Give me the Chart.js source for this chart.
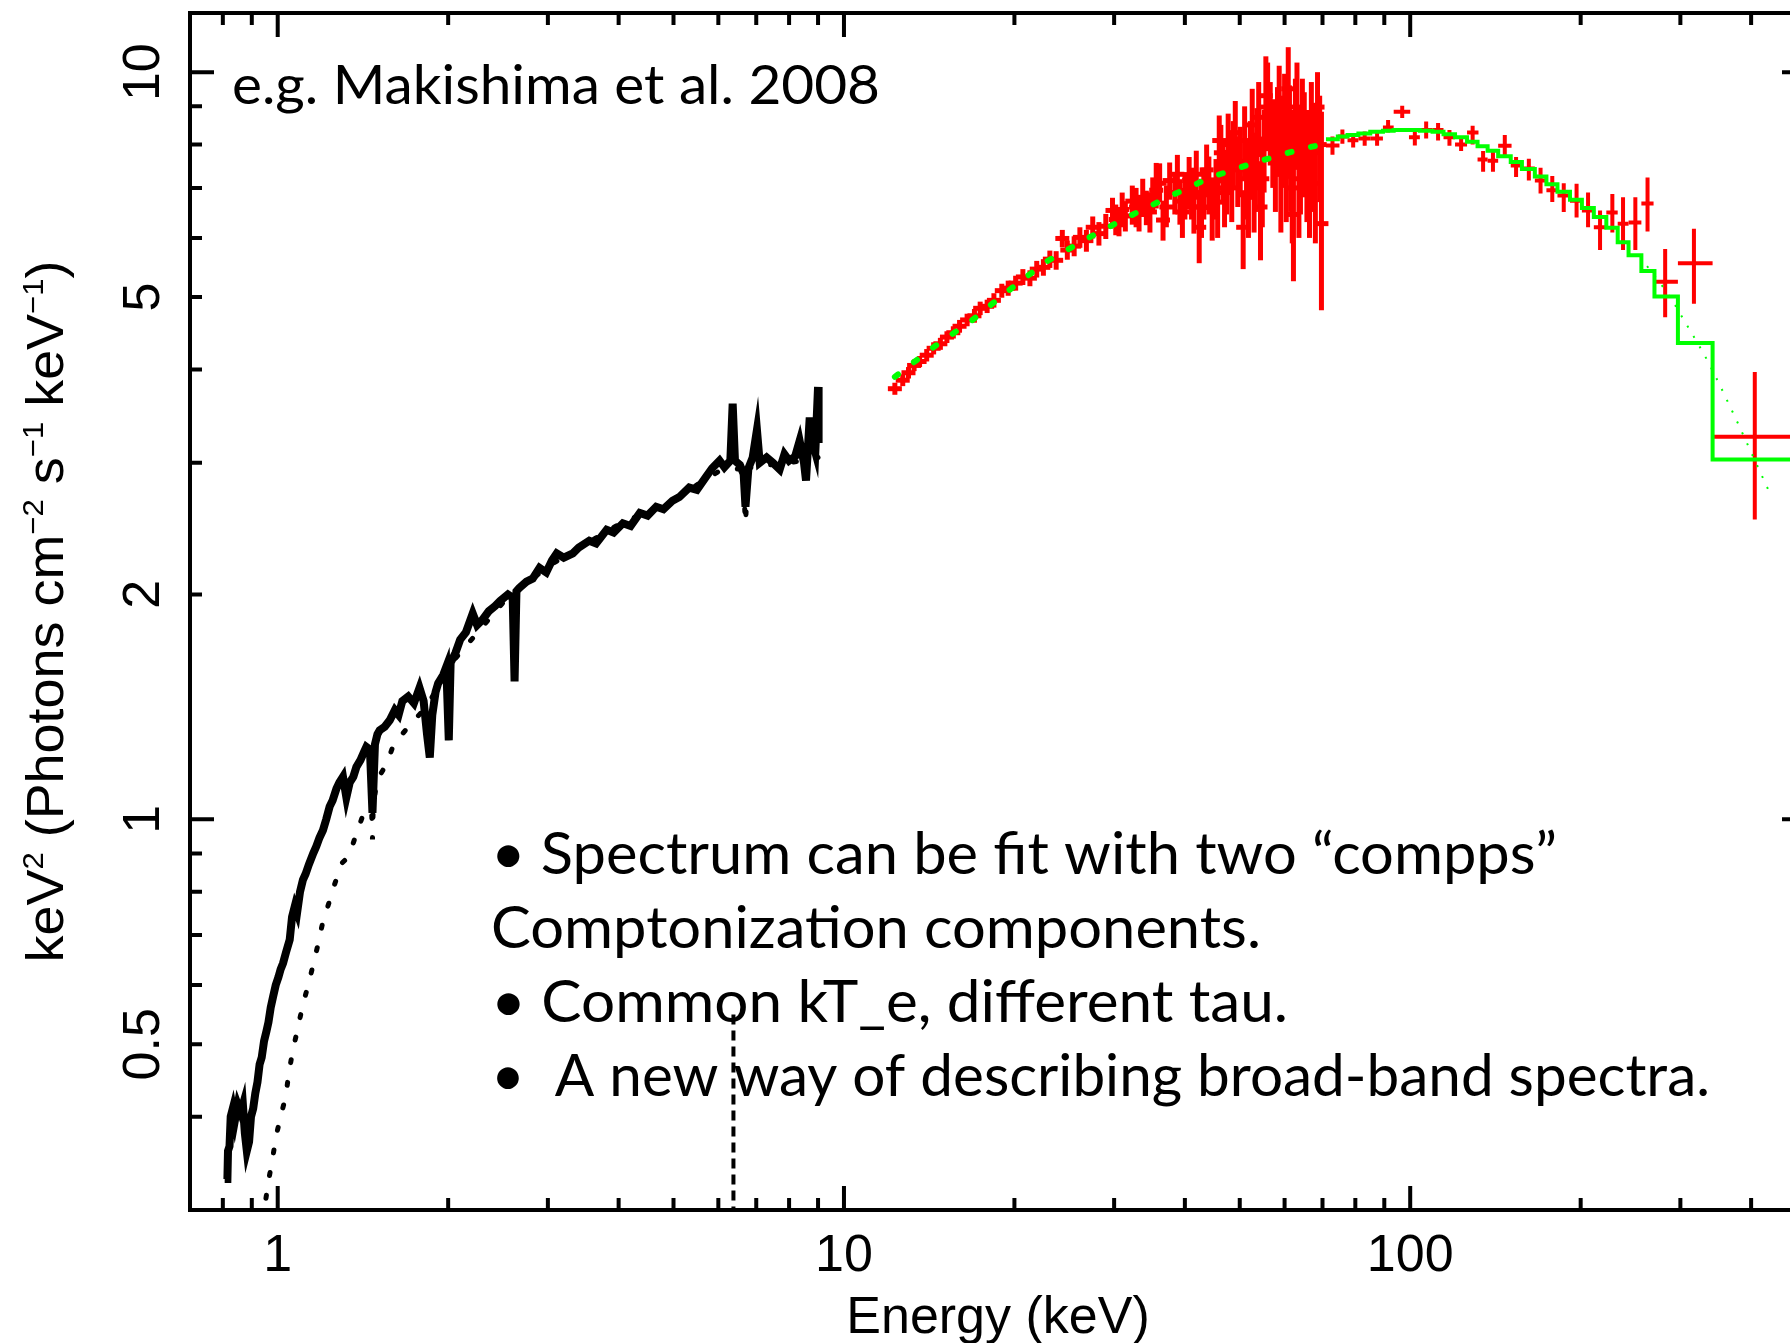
<!DOCTYPE html>
<html lang="en">
<head>
  <meta charset="UTF-8" />
  <title>Broad-band spectrum | two compps fit</title>
  <script src="https://cdn.jsdelivr.net/npm/chart.js"></script>
  <style>
    html, body { margin: 0; padding: 0; background: #fff; overflow: hidden; }
    #spec { display: block; }
  </style>
</head>
<body>
<canvas id="spec" width="1830" height="1343"></canvas>

<script>
// ---- values: energy (keV) vs keV^2 (photons cm^-2 s^-1 keV^-1) ----

// soft band (black)
const xisE = [0.806, 0.815, 0.817, 0.822, 0.826, 0.833, 0.84, 0.85, 0.86, 0.868, 0.875, 0.882, 0.89, 0.897, 0.905,
  0.913, 0.921, 0.929, 0.937, 0.946, 0.955, 0.963, 0.972, 0.981, 0.992, 1.003, 1.012, 1.022, 1.035, 1.05,
  1.06, 1.072, 1.082, 1.095, 1.108, 1.12, 1.135, 1.155, 1.17, 1.185, 1.202, 1.218, 1.235, 1.25, 1.27,
  1.285, 1.304, 1.322, 1.34, 1.36, 1.377, 1.40, 1.42, 1.434, 1.455, 1.47, 1.485, 1.50, 1.514, 1.545,
  1.577, 1.61, 1.635, 1.66, 1.70, 1.74, 1.78, 1.81, 1.835, 1.856, 1.875, 1.90, 1.92, 1.96, 1.985,
  2.005, 2.02, 2.06, 2.10, 2.15, 2.21, 2.25, 2.30, 2.36, 2.42, 2.47, 2.55, 2.60, 2.62, 2.64,
  2.67, 2.75, 2.82, 2.90, 2.98, 3.05, 3.11, 3.20, 3.32, 3.40, 3.55, 3.65, 3.81, 3.92, 4.07,
  4.20, 4.36, 4.50, 4.66, 4.80, 4.98, 5.12, 5.33, 5.50, 5.70, 5.85, 6.03, 6.15, 6.30, 6.36,
  6.42, 6.55, 6.65, 6.70, 6.78, 6.90, 7.02, 7.10, 7.30, 7.49, 7.70, 7.85, 8.00, 8.20, 8.35,
  8.50, 8.57, 8.70, 8.80, 8.90, 9.00, 9.02];
const xisV = [0.33, 0.33, 0.36, 0.365, 0.40, 0.41, 0.395, 0.415, 0.405, 0.415, 0.38, 0.36, 0.37, 0.40, 0.41,
  0.43, 0.445, 0.47, 0.48, 0.505, 0.52, 0.535, 0.56, 0.578, 0.60, 0.615, 0.63, 0.642, 0.665, 0.69,
  0.74, 0.765, 0.75, 0.80, 0.83, 0.845, 0.87, 0.90, 0.92, 0.945, 0.967, 1.0, 1.04, 1.06, 1.10,
  1.12, 1.14, 1.07, 1.12, 1.14, 1.175, 1.20, 1.23, 1.25, 1.24, 1.02, 1.26, 1.30, 1.316, 1.33,
  1.357, 1.40, 1.38, 1.44, 1.46, 1.43, 1.50, 1.44, 1.30, 1.21, 1.38, 1.48, 1.52, 1.56, 1.60,
  1.275, 1.62, 1.67, 1.74, 1.78, 1.886, 1.82, 1.85, 1.90, 1.93, 1.96, 2.0, 1.98, 1.53, 2.02,
  2.04, 2.08, 2.10, 2.17, 2.14, 2.22, 2.27, 2.24, 2.27, 2.31, 2.36, 2.34, 2.44, 2.42, 2.49,
  2.47, 2.57, 2.55, 2.62, 2.60, 2.67, 2.70, 2.78, 2.76, 2.87, 2.95, 3.02, 2.96, 3.02, 3.60,
  3.02, 2.98, 2.90, 2.62, 2.95, 3.05, 3.32, 3.00, 3.05, 3.00, 2.94, 3.08, 3.02, 3.06, 3.21,
  3.00, 2.84, 3.45, 3.20, 3.10, 3.79, 3.19];

// soft band model (black dots) and iron line component (dashed)
const xisModelE = [0.94, 0.964, 0.98, 0.996, 1.016, 1.033, 1.046, 1.063, 1.085, 1.107, 1.134, 1.158, 1.177, 1.2,
  1.225, 1.26, 1.297, 1.335, 1.374, 1.419, 1.465, 1.47, 1.475, 1.5, 1.56, 1.6, 1.7, 1.84, 2.0, 2.5,
  3.0, 4.0, 5.0, 6.0, 6.62, 6.7, 6.78, 7.0, 8.0, 9.0];
const xisModelV = [0.29, 0.329, 0.353, 0.38, 0.405, 0.425, 0.457, 0.49, 0.525, 0.564, 0.603, 0.644, 0.678, 0.726,
  0.763, 0.818, 0.873, 0.892, 0.952, 1.02, 1.03, 0.94, 1.05, 1.13, 1.19, 1.256, 1.33, 1.42, 1.60, 1.95,
  2.18, 2.48, 2.68, 2.92, 2.95, 2.49, 2.95, 2.97, 3.0, 3.05];
const feLineE = [6.38, 6.38];
const feLineV = [0.28, 0.552];

// hard band, PIN part (red crosses)
const pinE = [12.3, 12.7, 13.0, 13.3, 13.6, 14.0, 14.4, 14.8, 15.2, 15.6, 16.0, 16.5, 17.0, 17.4, 17.9,
  18.4, 19.0, 19.5, 20.1, 20.7, 21.3, 21.9, 22.5, 23.1, 23.7, 24.3, 24.8, 25.5, 26.1, 26.8,
  27.5, 28.2, 29.0, 29.8, 30.2, 30.6, 31.0, 31.4, 32.3, 32.8, 33.2, 33.7, 34.2, 34.7, 35.1,
  35.6, 36.1, 36.6, 37.1, 37.6, 38.4, 38.8, 39.2, 39.6, 40.0, 40.7, 41.1, 41.5, 41.9, 42.4,
  42.8, 43.2, 43.7, 44.1, 44.7, 45.4, 45.7, 46.0, 46.3, 46.7, 47.0, 47.4, 47.7, 48.0, 48.4,
  48.7, 49.1, 49.6, 50.1, 50.7, 51.0, 51.4, 51.8, 52.2, 52.6, 53.0, 53.3, 53.6, 54.0, 54.4,
  54.8, 55.2, 55.6, 56.0, 56.6, 57.2, 57.8, 58.3, 58.7, 59.1, 59.6, 60.0, 60.4, 60.9, 61.2,
  61.5, 61.9, 62.2, 62.7, 63.1, 63.6, 64.0, 64.5, 65.0, 65.7, 66.4, 66.9, 67.5, 68.0, 68.6,
  69.2, 69.7];
const pinV = [3.77, 3.87, 3.96, 4.05, 4.10, 4.18, 4.27, 4.33, 4.42, 4.48, 4.57, 4.66, 4.72, 4.83, 4.86,
  4.95, 5.10, 5.14, 5.22, 5.32, 5.30, 5.45, 5.48, 5.62, 5.60, 5.99, 5.78, 5.85, 6.01, 5.95,
  6.20, 6.08, 6.22, 6.53, 6.35, 6.30, 6.55, 6.42, 6.72, 6.60, 6.45, 6.80, 6.59, 6.50, 6.85,
  6.95, 7.10, 6.34, 6.60, 7.16, 6.90, 7.30, 6.72, 6.50, 6.85, 7.16, 6.90, 6.60, 7.30, 6.20,
  6.60, 6.90, 7.40, 7.08, 6.59, 7.00, 6.70, 8.10, 7.80, 7.40, 6.90, 7.16, 8.00, 7.60, 7.00,
  7.80, 8.30, 7.40, 7.60, 6.20, 8.10, 7.20, 6.80, 7.70, 8.50, 7.00, 7.40, 8.00, 8.70, 6.60,
  7.20, 7.90, 9.30, 8.98, 8.60, 8.10, 7.60, 8.40, 9.00, 7.30, 8.10, 8.70, 7.40, 9.50, 8.40,
  7.70, 7.00, 6.45, 8.60, 8.98, 7.20, 7.70, 8.50, 8.10, 7.60, 7.30, 8.40, 7.80, 7.10, 8.98,
  8.00, 6.27];
const pinLo = [3.70, 3.80, 3.89, 3.98, 4.03, 4.10, 4.19, 4.25, 4.34, 4.40, 4.48, 4.57, 4.62, 4.73, 4.76,
  4.84, 4.99, 5.02, 5.10, 5.19, 5.17, 5.31, 5.34, 5.47, 5.44, 5.83, 5.61, 5.67, 5.82, 5.75,
  5.99, 5.86, 5.98, 6.27, 6.05, 6.03, 6.20, 6.12, 6.25, 6.20, 6.12, 6.40, 6.24, 6.10, 6.47,
  6.57, 6.70, 5.95, 6.20, 6.75, 6.45, 6.85, 6.25, 6.00, 6.35, 6.62, 6.35, 6.08, 6.75, 5.55,
  6.00, 6.35, 6.80, 6.45, 5.95, 6.35, 6.00, 7.35, 7.10, 6.70, 6.20, 6.45, 7.20, 6.85, 6.30,
  7.00, 7.45, 6.60, 6.80, 5.45, 7.20, 6.35, 6.00, 6.80, 7.50, 6.10, 6.50, 7.05, 7.70, 5.60,
  6.20, 6.90, 8.20, 7.85, 7.50, 7.00, 6.50, 7.25, 7.80, 6.10, 7.00, 7.45, 6.30, 8.20, 7.20,
  6.50, 5.90, 5.25, 7.40, 7.70, 6.00, 6.45, 7.20, 6.80, 6.30, 6.00, 7.00, 6.50, 5.90, 7.90,
  6.70, 4.80];
const pinHi = [3.84, 3.94, 4.03, 4.12, 4.17, 4.26, 4.35, 4.41, 4.50, 4.57, 4.66, 4.75, 4.82, 4.93, 4.96,
  5.06, 5.21, 5.26, 5.34, 5.45, 5.43, 5.59, 5.62, 5.77, 5.76, 6.15, 5.95, 6.03, 6.20, 6.15,
  6.41, 6.30, 6.46, 6.79, 6.65, 6.57, 6.90, 6.72, 7.05, 7.00, 6.78, 7.20, 6.94, 6.90, 7.23,
  7.56, 7.55, 6.73, 7.05, 7.57, 7.35, 7.75, 7.19, 7.00, 7.35, 7.70, 7.45, 7.12, 7.85, 6.85,
  7.20, 7.45, 8.00, 7.71, 7.23, 7.65, 7.40, 8.75, 8.50, 8.10, 7.60, 7.87, 8.80, 8.35, 7.75,
  8.60, 9.15, 8.20, 8.45, 6.95, 9.00, 8.05, 7.65, 8.60, 9.50, 7.90, 8.30, 8.95, 9.70, 7.60,
  8.20, 8.90, 10.5, 10.3, 9.70, 9.20, 8.70, 9.55, 10.2, 8.50, 9.30, 9.95, 8.50, 10.8, 9.60,
  8.90, 8.10, 7.65, 9.80, 10.3, 8.40, 8.95, 9.80, 9.40, 8.90, 8.60, 9.70, 9.10, 8.40, 10.0,
  9.30, 8.85];

// hard band, GSO part (red crosses with bin widths)
const gsoE = [72.9, 75.9, 79.3, 83.1, 87.4, 91.4, 96.8, 101.9, 106.7, 112.0, 117.3, 123.0, 128.9, 134.5, 140.0,
  146.9, 153.8, 162.0, 169.9, 178.2, 186.7, 196.7, 206.1, 216.4, 227.5, 237.6, 249.8, 262.5, 282.0, 317.0, 406];
const gsoV = [7.98, 8.20, 8.11, 8.15, 8.15, 8.43, 8.85, 8.18, 8.37, 8.37, 8.18, 8.00, 8.30, 7.64, 7.61,
  7.97, 7.50, 7.43, 7.16, 6.95, 6.84, 6.73, 6.53, 6.20, 6.49, 6.27, 6.29, 6.67, 5.24, 5.55, 3.25];
const gsoLo = [7.75, 8.02, 7.93, 7.97, 7.97, 8.30, 8.68, 7.98, 8.15, 8.10, 7.97, 7.84, 8.00, 7.36, 7.36,
  7.70, 7.24, 7.16, 6.88, 6.70, 6.50, 6.39, 6.20, 5.78, 6.10, 5.78, 5.78, 6.12, 4.70, 4.90, 2.52];
const gsoHi = [8.20, 8.38, 8.29, 8.33, 8.33, 8.63, 9.02, 8.38, 8.59, 8.55, 8.37, 8.15, 8.48, 7.84, 7.84,
  8.24, 7.70, 7.66, 7.45, 7.26, 7.10, 7.09, 6.90, 6.53, 6.87, 6.80, 6.80, 7.23, 5.80, 6.17, 3.97];
const gsoBinLo = [71, 74.5, 77.5, 81, 85, 89.5, 93.5, 99.5, 104, 109.5, 114.5, 120, 126, 131.5, 137,
  143, 150.5, 157.5, 166, 174, 182, 191.5, 201, 211, 222, 232.5, 243, 256, 270, 297, 342];
const gsoBinHi = [75, 77.5, 81, 85, 89.5, 93.5, 100, 104, 109.5, 114.5, 120, 126, 132, 137, 143,
  151, 157.5, 166, 174, 182, 191.5, 201, 211, 222, 232.5, 243, 256, 269, 297, 342, 500];

// hard band model (green): dots over PIN, binned steps over GSO, fine dotted curve
const pinModelE = [12.3, 14.3, 16.8, 19.4, 22.7, 26.9, 31.6, 37.6, 44.6, 53.8, 64.5, 70];
const pinModelV = [3.91, 4.27, 4.65, 5.08, 5.57, 5.99, 6.39, 6.82, 7.24, 7.59, 7.90, 8.00];
const gsoModelEdge = [71, 74.5, 77.5, 81, 85, 89.5, 93.5, 99.5, 104, 109.5, 114.5, 120, 126, 131.5, 137,
  143, 150.5, 157.5, 166, 174, 182, 191.5, 201, 211, 222, 232.5, 243, 256, 270, 297, 342, 500];
const gsoModelV = [8.13, 8.20, 8.24, 8.28, 8.32, 8.35, 8.37, 8.37, 8.35, 8.32, 8.26, 8.18, 8.07, 7.96, 7.85,
  7.72, 7.58, 7.42, 7.25, 7.08, 6.92, 6.75, 6.58, 6.40, 6.19, 5.92, 5.69, 5.42, 5.01, 4.34, 3.03, 3.03];
const fineModelE = [262, 280, 295, 310, 330, 350, 375, 400, 430];
const fineModelV = [5.5, 5.15, 4.85, 4.55, 4.2, 3.85, 3.45, 3.1, 2.75];

// axes
const xMajorTicks = [1, 10, 100];
const xMinorTicks = [0.8, 0.9, 2, 3, 4, 5, 6, 7, 8, 9, 20, 30, 40, 50, 60, 70, 80, 90, 200, 300, 400];
const yMajorTicks = [1, 10];
const yMinorTicks = [0.4, 0.5, 0.6, 0.7, 0.8, 0.9, 2, 3, 4, 5, 6, 7, 8, 9];
const xTickLabels = ['1', '10', '100'];
const xTickValues = [1, 10, 100];
const yTickLabels = ['0.5', '1', '2', '5', '10'];
const yTickValues = [0.5, 1, 2, 5, 10];

const noteTitle = 'e.g. Makishima et al. 2008';
const noteLines = [
  '\u2022 Spectrum can be fit with two \u201ccompps\u201d',
  'Comptonization components.',
  '\u2022 Common kT_e, different tau.',
  '\u2022  A new way of describing broad-band spectra.'
];

function pts(xs, ys) {
  return xs.map((x, i) => ({ x: x, y: ys[i] }));
}

// draw text squeezed/stretched to a target width
function fitText(ctx, str, x, y, width) {
  const w = ctx.measureText(str).width;
  ctx.save();
  ctx.translate(x, y);
  ctx.scale(width / w, 1);
  ctx.fillText(str, 0, 0);
  ctx.restore();
}

const specFrame = {
  id: 'specFrame',
  // error bars sit under every line and marker
  beforeDatasetsDraw(chart) {
    const { ctx, chartArea: a, scales: { x, y } } = chart;
    ctx.save();
    ctx.beginPath();
    ctx.rect(a.left, a.top, a.right - a.left, a.bottom - a.top);
    ctx.clip();
    chart.data.datasets.forEach(ds => {
      if (!ds.errLo) return;
      ctx.strokeStyle = ds.pointBorderColor;
      ctx.lineWidth = ds.barWidth;
      ds.data.forEach((p, i) => {
        const px = x.getPixelForValue(p.x);
        const py = y.getPixelForValue(p.y);
        ctx.beginPath();
        ctx.moveTo(px, y.getPixelForValue(ds.errLo[i]));
        ctx.lineTo(px, y.getPixelForValue(ds.errHi[i]));
        if (ds.binLo) {
          ctx.moveTo(x.getPixelForValue(ds.binLo[i]), py);
          ctx.lineTo(x.getPixelForValue(ds.binHi[i]), py);
        }
        ctx.stroke();
      });
    });
    ctx.restore();
  },
  afterDraw(chart) {
    const { ctx, chartArea: a, scales: { x, y } } = chart;
    ctx.save();
    ctx.strokeStyle = '#000';
    ctx.fillStyle = '#000';
    ctx.lineWidth = 4;
    ctx.lineCap = 'butt';

    // frame
    ctx.strokeRect(a.left, a.top, a.right - a.left, a.bottom - a.top);

    // inward ticks, mirrored on all four sides
    const xTick = (v, len) => {
      const px = x.getPixelForValue(v);
      ctx.beginPath();
      ctx.moveTo(px, a.bottom); ctx.lineTo(px, a.bottom - len);
      ctx.moveTo(px, a.top); ctx.lineTo(px, a.top + len);
      ctx.stroke();
    };
    const yTick = (v, len) => {
      const py = y.getPixelForValue(v);
      ctx.beginPath();
      ctx.moveTo(a.left, py); ctx.lineTo(a.left + len, py);
      ctx.moveTo(a.right, py); ctx.lineTo(a.right - len, py);
      ctx.stroke();
    };
    xMajorTicks.forEach(v => xTick(v, 24));
    xMinorTicks.forEach(v => xTick(v, 12));
    yMajorTicks.forEach(v => yTick(v, 24));
    yMinorTicks.forEach(v => yTick(v, 12));

    // tick labels
    ctx.font = '52px "Liberation Sans", Arial, sans-serif';
    ctx.textAlign = 'center';
    ctx.textBaseline = 'alphabetic';
    xTickLabels.forEach((t, i) => {
      ctx.fillText(t, x.getPixelForValue(xTickValues[i]), 1271);
    });
    yTickLabels.forEach((t, i) => {
      ctx.save();
      ctx.translate(159, y.getPixelForValue(yTickValues[i]));
      ctx.rotate(-Math.PI / 2);
      ctx.fillText(t, 0, 0);
      ctx.restore();
    });

    // axis titles
    ctx.fillText('Energy (keV)', (a.left + a.right) / 2, 1333);

    const parts = [['keV', 0], ['2', 1], [' (Photons cm', 0], ['\u22122', 1], [' s', 0],
      ['\u22121', 1], [' keV', 0], ['\u22121', 1], [')', 0]];
    const bigFont = '52px "Liberation Sans", Arial, sans-serif';
    const supFont = '30px "Liberation Sans", Arial, sans-serif';
    let total = 0;
    parts.forEach(p => { ctx.font = p[1] ? supFont : bigFont; total += ctx.measureText(p[0]).width; });
    ctx.save();
    ctx.translate(63, (a.top + a.bottom) / 2);
    ctx.rotate(-Math.PI / 2);
    ctx.scale(702 / total, 1);
    ctx.textAlign = 'left';
    let cx = -total / 2;
    parts.forEach(p => {
      ctx.font = p[1] ? supFont : bigFont;
      ctx.fillText(p[0], cx, p[1] ? -20 : 0);
      cx += ctx.measureText(p[0]).width;
    });
    ctx.restore();

    // notes inside the plot
    ctx.textAlign = 'left';
    ctx.font = '55px Lato, "Open Sans", sans-serif';
    fitText(ctx, noteTitle, 232, 104, 648);
    ctx.font = '58px Lato, "Open Sans", sans-serif';
    const lineRight = [1557, 1261, 1288, 1710];
    noteLines.forEach((t, i) => {
      fitText(ctx, t, 491, 874 + i * 74, lineRight[i] - 491);
    });
    ctx.restore();
  }
};

new Chart(document.getElementById('spec'), {
  type: 'scatter',
  data: {
    datasets: [
      {
        label: 'model (GSO bins)',
        data: pts(gsoModelEdge, gsoModelV),
        showLine: true, stepped: 'before',
        borderColor: '#00ff00', borderWidth: 4, pointRadius: 0, order: 0
      },
      {
        label: 'model (PIN)',
        data: pts(pinModelE, pinModelV),
        showLine: true, borderColor: '#00ff00', borderWidth: 6,
        borderDash: [4, 20], borderCapStyle: 'round', pointRadius: 0, order: 1
      },
      {
        label: 'model (continuous)',
        data: pts(fineModelE, fineModelV),
        showLine: true, borderColor: '#00ff00', borderWidth: 2,
        borderDash: [2, 10], pointRadius: 0, order: 2
      },
      {
        label: 'GSO',
        data: pts(gsoE, gsoV),
        errLo: gsoLo, errHi: gsoHi, binLo: gsoBinLo, binHi: gsoBinHi, barWidth: 4,
        showLine: false, pointRadius: 0, pointBorderColor: '#ff0000', order: 3
      },
      {
        label: 'PIN',
        data: pts(pinE, pinV),
        errLo: pinLo, errHi: pinHi, barWidth: 5,
        showLine: false, pointStyle: 'line', pointRadius: 7,
        pointBorderWidth: 5, pointBorderColor: '#ff0000', order: 4
      },
      {
        label: 'XIS',
        data: pts(xisE, xisV),
        showLine: true, borderColor: '#000', borderWidth: 8,
        borderJoinStyle: 'miter', pointRadius: 0, order: 5
      },
      {
        label: 'XIS model',
        data: pts(xisModelE, xisModelV),
        showLine: true, borderColor: '#000', borderWidth: 5,
        borderDash: [3, 20], borderCapStyle: 'round', pointRadius: 0, order: 6
      },
      {
        label: 'Fe line',
        data: pts(feLineE, feLineV),
        showLine: true, borderColor: '#000', borderWidth: 4,
        borderDash: [10, 6], pointRadius: 0, order: 7
      }
    ]
  },
  options: {
    responsive: false,
    devicePixelRatio: 1,
    animation: false,
    layout: { padding: { left: 190, top: 13, right: 24, bottom: 133 } },
    plugins: { legend: { display: false }, tooltip: { enabled: false } },
    scales: {
      x: { type: 'logarithmic', min: 0.7, max: 500, display: false },
      y: { type: 'logarithmic', min: 0.3, max: 12, display: false }
    }
  },
  plugins: [specFrame]
});
</script>
</body>
</html>
